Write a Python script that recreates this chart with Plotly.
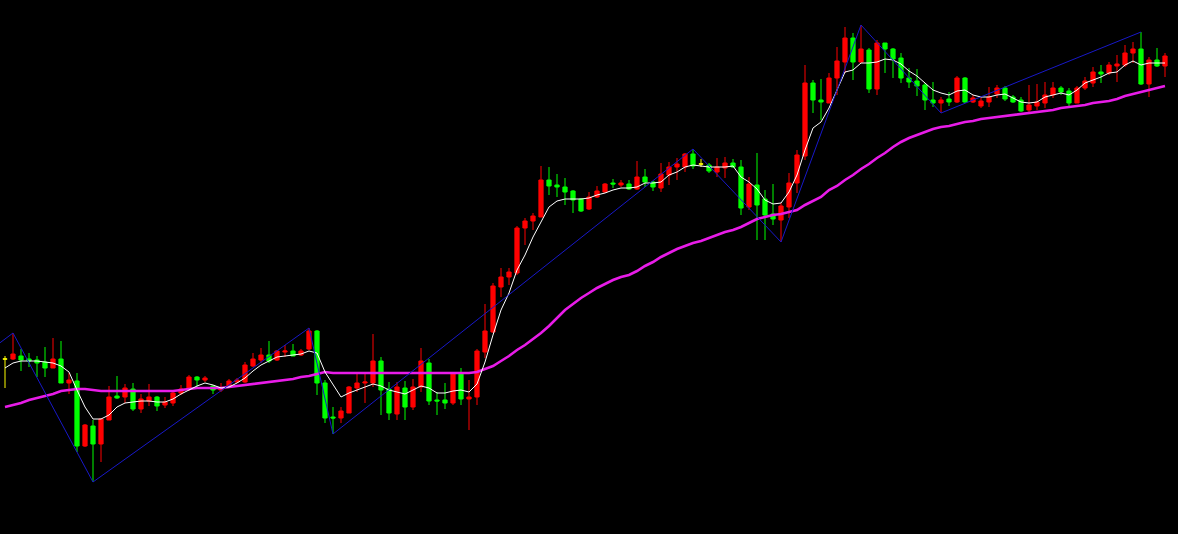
import plotly.graph_objects as go

# bar index (one per trading session)
idx = list(range(146))

open_ = [175, 175, 178, 175, 174, 172, 166, 175, 151, 153,
         88, 108, 90, 114, 138, 137, 145, 125, 133, 137,
         129, 131, 141, 145, 157, 154, 148, 144, 148, 152,
         152, 168, 174, 179, 174, 182, 183, 179, 185, 203,
         151, 117, 116, 121, 146, 151, 151, 173, 145, 120,
         146, 127, 147, 171, 134, 134, 131, 161, 135, 137,
         182, 202, 247, 257, 261, 306, 313, 317, 354, 349,
         347, 343, 335, 325, 337, 342, 351, 349, 350, 345,
         357, 352, 346, 359, 367, 367, 380, 370, 369, 362,
         366, 371, 367, 327, 349, 335, 320, 314, 327, 351,
         378, 451, 434, 431, 456, 472, 496, 472, 484, 445,
         491, 485, 476, 456, 453, 449, 434, 431, 435, 432,
         456, 432, 428, 432, 440, 446, 437, 434, 424, 428,
         431, 439, 446, 443, 431, 446, 451, 462, 461, 468,
         469, 481, 485, 450, 474, 468]

high = [178, 201, 185, 181, 178, 187, 196, 193, 161, 161,
        110, 114, 116, 148, 158, 150, 151, 140, 150, 138,
        137, 144, 149, 159, 158, 158, 149, 151, 155, 156,
        172, 181, 186, 193, 184, 189, 190, 185, 206, 204,
        154, 127, 127, 148, 162, 162, 200, 177, 152, 152,
        153, 155, 186, 175, 142, 151, 161, 166, 154, 185,
        230, 251, 266, 266, 308, 316, 321, 368, 367, 360,
        356, 344, 336, 342, 348, 351, 355, 354, 354, 373,
        365, 353, 371, 372, 376, 381, 385, 375, 371, 376,
        377, 375, 374, 357, 381, 344, 350, 331, 361, 384,
        469, 454, 455, 461, 487, 507, 501, 509, 486, 494,
        491, 486, 481, 466, 465, 451, 452, 437, 442, 458,
        457, 439, 437, 447, 449, 448, 439, 437, 449, 450,
        452, 452, 448, 446, 448, 457, 467, 469, 472, 479,
        489, 492, 502, 477, 486, 481]

low = [146, 174, 163, 167, 157, 157, 166, 151, 140, 82,
       87, 52, 72, 114, 135, 131, 123, 121, 128, 123,
       126, 128, 139, 143, 146, 152, 140, 142, 147, 151,
       151, 167, 171, 171, 173, 177, 178, 178, 184, 139,
       111, 100, 111, 121, 142, 131, 147, 119, 114, 114,
       114, 124, 142, 129, 119, 125, 129, 129, 104, 129,
       176, 201, 237, 249, 259, 289, 304, 317, 339, 337,
       329, 321, 322, 324, 336, 341, 346, 347, 344, 344,
       347, 343, 342, 349, 354, 362, 365, 367, 361, 357,
       356, 366, 319, 324, 294, 294, 309, 292, 316, 341,
       374, 421, 414, 431, 439, 461, 454, 471, 441, 439,
       461, 456, 451, 446, 438, 424, 427, 421, 428, 431,
       431, 431, 426, 427, 436, 433, 431, 422, 422, 424,
       426, 436, 439, 427, 431, 444, 447, 451, 459, 452,
       467, 471, 449, 437, 467, 457]

close = [175, 180, 174, 173, 171, 166, 175, 151, 154, 88,
         109, 90, 115, 137, 136, 146, 125, 135, 137, 128,
         132, 141, 145, 157, 154, 156, 144, 146, 153, 154,
         169, 175, 179, 173, 183, 183, 178, 183, 203, 151,
         116, 116, 123, 147, 151, 152, 173, 144, 121, 147,
         127, 147, 173, 133, 133, 131, 161, 135, 137, 183,
         203, 248, 257, 262, 306, 313, 318, 354, 348, 347,
         342, 334, 323, 337, 343, 350, 350, 351, 345, 357,
         352, 347, 360, 367, 370, 380, 368, 370, 363, 367,
         371, 367, 326, 350, 329, 319, 315, 328, 351, 379,
         451, 434, 432, 456, 473, 496, 472, 485, 445, 491,
         485, 475, 456, 452, 448, 434, 431, 434, 432, 456,
         432, 436, 433, 437, 446, 435, 432, 423, 429, 432,
         439, 446, 442, 431, 446, 453, 462, 460, 469, 470,
         481, 485, 450, 474, 468, 478]

# short moving average (white)
ma_short = [166, 171, 173, 173, 173, 172, 171, 168, 162, 144,
            127, 115, 115, 119, 127, 131, 132, 133, 133, 132,
            132, 135, 140, 144, 148, 151, 149, 146, 147, 151,
            156, 163, 169, 173, 177, 178, 179, 180, 183, 181,
            162, 149, 137, 141, 144, 147, 150, 148, 144, 142,
            140, 144, 148, 146, 141, 141, 143, 144, 142, 150,
            172, 199, 224, 241, 264, 279, 297, 312, 327, 333,
            335, 335, 335, 336, 339, 341, 344, 346, 346, 347,
            351, 351, 352, 359, 362, 367, 369, 368, 367, 367,
            367, 368, 357, 352, 345, 334, 330, 331, 342, 359,
            384, 406, 412, 426, 444, 462, 464, 471, 471, 472,
            475, 474, 470, 463, 458, 451, 444, 441, 439, 443,
            444, 439, 437, 437, 439, 440, 436, 432, 431, 432,
            437, 439, 441, 439, 444, 451, 454, 457, 461, 462,
            469, 473, 469, 471, 471, 471]

# long moving average (magenta)
ma_long = [127, 129, 131, 134, 136, 138, 140, 143, 144, 145,
           145, 144, 143, 143, 143, 143, 143, 143, 143, 143,
           143, 143, 144, 145, 146, 146, 146, 146, 147, 148,
           149, 150, 151, 152, 153, 154, 155, 157, 158, 160,
           162, 161, 161, 161, 161, 161, 161, 161, 161, 161,
           161, 161, 161, 161, 161, 161, 161, 161, 161, 162,
           165, 168, 173, 178, 184, 189, 195, 201, 208, 216,
           224, 230, 236, 241, 246, 250, 254, 257, 259, 263,
           268, 272, 277, 281, 285, 288, 291, 293, 296, 299,
           302, 304, 307, 311, 315, 317, 319, 320, 322, 324,
           329, 333, 337, 344, 348, 354, 359, 365, 370, 376,
           381, 387, 392, 396, 399, 402, 405, 407, 408, 410,
           412, 413, 415, 416, 417, 418, 419, 420, 421, 422,
           423, 424, 426, 427, 428, 429, 431, 432, 433, 435,
           438, 440, 442, 444, 446, 448]

# zigzag pivots (blue)
zz_idx = [-1, 1, 11, 38, 41, 86, 97, 107, 117, 142]
zz_val = [189, 201, 52, 206, 100, 385, 292, 509, 421, 502]

RED = "#FF0000"
GREEN = "#00FF00"
YELLOW = "#FFFF00"

normal = [i for i in idx if open_[i] != close[i]]
doji = [i for i in idx if open_[i] == close[i]]

fig = go.Figure()
fig.add_trace(go.Candlestick(
    x=[idx[i] for i in normal],
    open=[open_[i] for i in normal], high=[high[i] for i in normal],
    low=[low[i] for i in normal], close=[close[i] for i in normal],
    increasing=dict(line=dict(color=RED, width=1), fillcolor=RED),
    decreasing=dict(line=dict(color=GREEN, width=1), fillcolor=GREEN),
    whiskerwidth=0, showlegend=False, hoverinfo="skip"))
fig.add_trace(go.Candlestick(
    x=[idx[i] for i in doji],
    open=[open_[i] for i in doji], high=[high[i] for i in doji],
    low=[low[i] for i in doji], close=[close[i] for i in doji],
    increasing=dict(line=dict(color=YELLOW, width=1), fillcolor=YELLOW),
    decreasing=dict(line=dict(color=YELLOW, width=1), fillcolor=YELLOW),
    whiskerwidth=0, showlegend=False, hoverinfo="skip"))
fig.add_trace(go.Scatter(x=idx, y=ma_long, mode="lines",
                         line=dict(color="#E81CE8", width=2.6),
                         showlegend=False, hoverinfo="skip"))
fig.add_trace(go.Scatter(x=idx, y=ma_short, mode="lines",
                         line=dict(color="#FFFFFF", width=1),
                         showlegend=False, hoverinfo="skip"))
fig.add_trace(go.Scatter(x=zz_idx, y=zz_val, mode="lines",
                         line=dict(color="#1818C8", width=1),
                         showlegend=False, hoverinfo="skip"))

fig.update_layout(
    width=1178, height=534,
    margin=dict(l=0, r=0, t=0, b=0),
    paper_bgcolor="#000000", plot_bgcolor="#000000",
    xaxis=dict(range=[-0.625, 146.625], visible=False,
               rangeslider=dict(visible=False), fixedrange=True),
    yaxis=dict(range=[0, 534], visible=False, fixedrange=True),
    showlegend=False,
    boxgap=0.25,
)
fig.write_html(
    "out.html",
    config={"displayModeBar": False, "staticPlot": True},
    post_script="document.body.style.margin='0';"
                "document.body.style.overflow='hidden';"
                "document.body.style.background='#000';",
)
